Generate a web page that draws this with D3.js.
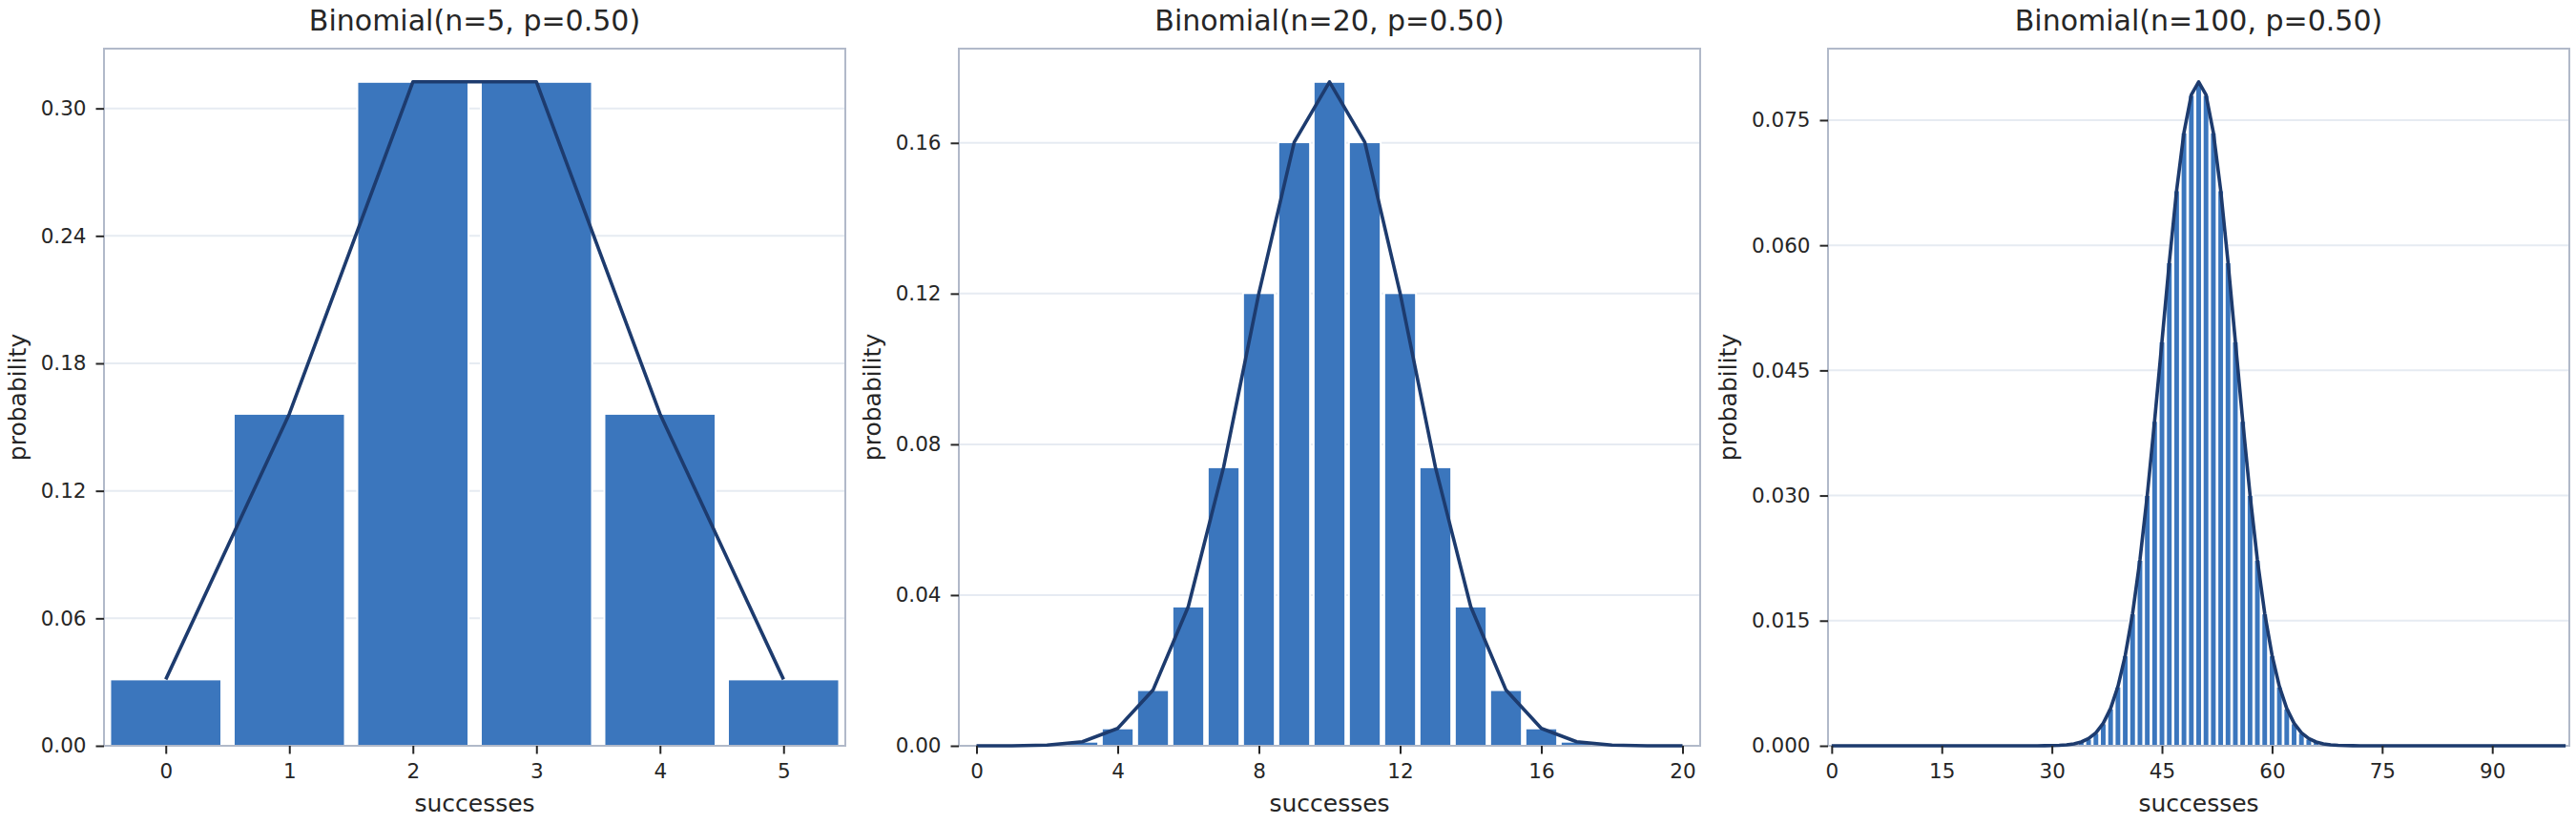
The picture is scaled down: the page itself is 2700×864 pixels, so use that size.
<!DOCTYPE html>
<html>
<head>
<meta charset="utf-8">
<script src="https://cdn.jsdelivr.net/npm/d3@7"></script>
<style>
  body { margin: 0; background: #fff; }
  text { font-family: "DejaVu Sans", sans-serif; fill: #262626; }
</style>
</head>
<body>
<div id="chart"></div>
<script>
// Chart values
const titles = ["Binomial(n=5, p=0.50)", "Binomial(n=20, p=0.50)", "Binomial(n=100, p=0.50)"];

const pmf5 = [0.03125, 0.15625, 0.3125, 0.3125, 0.15625, 0.03125];

const pmf20 = [0.000001, 0.000019, 0.000181, 0.001087, 0.004621, 0.014786, 0.036964,
  0.073929, 0.120134, 0.160179, 0.176197, 0.160179, 0.120134, 0.073929, 0.036964,
  0.014786, 0.004621, 0.001087, 0.000181, 0.000019, 0.000001];

const pmf100 = [
  0, 0, 0, 0, 0, 0, 0, 0, 0, 0,
  0, 0, 0, 0, 0, 0, 0, 0, 0, 0,
  0, 0, 0, 0, 0, 0.0000002, 0.0000006, 0.0000015, 0.0000039, 0.0000098,
  0.0000232, 0.0000523, 0.0001128, 0.0002325, 0.0004581, 0.0008638, 0.0015597, 0.0026979, 0.0044729, 0.0071107,
  0.0108438, 0.0158689, 0.0222922, 0.0300685, 0.0389525, 0.0484743, 0.0579584, 0.0665905, 0.0735270, 0.0780286,
  0.0795892,
  0.0780286, 0.0735270, 0.0665905, 0.0579584, 0.0484743, 0.0389525, 0.0300685, 0.0222922, 0.0158689, 0.0108438,
  0.0071107, 0.0044729, 0.0026979, 0.0015597, 0.0008638, 0.0004581, 0.0002325, 0.0001128, 0.0000523, 0.0000232,
  0.0000098, 0.0000039, 0.0000015, 0.0000006, 0.0000002, 0, 0, 0, 0, 0,
  0, 0, 0, 0, 0, 0, 0, 0, 0, 0,
  0, 0, 0, 0, 0, 0, 0, 0, 0, 0
];

const xTicks5 = [0, 1, 2, 3, 4, 5];
const xTicks20 = [0, 4, 8, 12, 16, 20];
const xTicks100 = [0, 15, 30, 45, 60, 75, 90];

const yTicks5 = [0, 0.06, 0.12, 0.18, 0.24, 0.30];
const yTicks20 = [0, 0.04, 0.08, 0.12, 0.16];
const yTicks100 = [0, 0.015, 0.030, 0.045, 0.060, 0.075];

const yFormats = [".2f", ".2f", ".3f"];
const xLabel = "successes";
const yLabel = "probability";

// Layout
const width = 2700,
  height = 864,
  plotTop = 51,
  plotBottom = 782,
  panelW = 777,
  panelX = [109, 1005, 1916];

const barColor = "#3b76bd",
  lineColor = "#1d3b6e",
  spineColor = "#b1b9c9",
  gridColor = "#e6ebf2";

const svg = d3.select("#chart")
  .append("svg")
  .attr("width", width)
  .attr("height", height);

svg.append("rect")
  .attr("width", width)
  .attr("height", height)
  .attr("fill", "#fff");

function drawPanel(i, pmf, xTicks, yTicks) {
  const n = pmf.length - 1;
  const x0 = panelX[i];
  const g = svg.append("g").attr("class", "panel" + i);

  const xScale = d3.scaleLinear()
    .domain([-0.5, n + 0.5])
    .range([x0, x0 + panelW]);

  const yScale = d3.scaleLinear()
    .domain([0, d3.max(pmf) * 1.05])
    .range([plotBottom, plotTop]);

  // horizontal grid
  g.selectAll("line.grid")
    .data(yTicks)
    .join("line")
    .attr("class", "grid")
    .attr("x1", x0)
    .attr("x2", x0 + panelW)
    .attr("y1", d => yScale(d))
    .attr("y2", d => yScale(d))
    .attr("stroke", gridColor)
    .attr("stroke-width", 2);

  // bars
  const unit = xScale(1) - xScale(0);
  g.selectAll("rect.bar")
    .data(pmf)
    .join("rect")
    .attr("class", "bar")
    .attr("x", (d, k) => xScale(k) - 0.45 * unit)
    .attr("width", 0.9 * unit)
    .attr("y", d => yScale(d))
    .attr("height", d => plotBottom - yScale(d))
    .attr("fill", barColor)
    .attr("stroke", "#fff")
    .attr("stroke-width", 2);

  // frame
  g.append("rect")
    .attr("x", x0)
    .attr("y", plotTop)
    .attr("width", panelW)
    .attr("height", plotBottom - plotTop)
    .attr("fill", "none")
    .attr("stroke", spineColor)
    .attr("stroke-width", 2);

  // pmf line
  const lineFunction = d3.line()
    .x((d, k) => xScale(k))
    .y(d => yScale(d));

  g.append("path")
    .datum(pmf)
    .attr("d", lineFunction)
    .attr("fill", "none")
    .attr("stroke", lineColor)
    .attr("stroke-width", 3.6)
    .attr("stroke-linejoin", "round");

  // axes
  const yAxis = g.append("g")
    .attr("transform", `translate(${x0},0)`)
    .call(d3.axisLeft(yScale)
      .tickValues(yTicks)
      .tickFormat(d3.format(yFormats[i]))
      .tickSize(8.5)
      .tickPadding(10));

  const xAxis = g.append("g")
    .attr("transform", `translate(0,${plotBottom})`)
    .call(d3.axisBottom(xScale)
      .tickValues(xTicks)
      .tickFormat(d3.format("d"))
      .tickSize(8.5)
      .tickPadding(10));

  [yAxis, xAxis].forEach(ax => {
    ax.select(".domain").remove();
    ax.selectAll(".tick line").attr("stroke", "#262626").attr("stroke-width", 2);
    ax.selectAll(".tick text")
      .attr("fill", "#262626")
      .style("font-family", "DejaVu Sans")
      .style("font-size", "21.5px");
  });

  // labels
  const maxW = d3.max(yAxis.selectAll(".tick text").nodes(), t => t.getComputedTextLength());
  const labelX = x0 - 8.5 - 10 - maxW - 10 - 5.9;

  g.append("text")
    .attr("transform", `translate(${labelX},${(plotTop + plotBottom) / 2}) rotate(-90)`)
    .attr("text-anchor", "middle")
    .style("font-size", "25px")
    .text(yLabel);

  g.append("text")
    .attr("x", x0 + panelW / 2)
    .attr("y", 851)
    .attr("text-anchor", "middle")
    .style("font-size", "25px")
    .text(xLabel);

  g.append("text")
    .attr("x", x0 + panelW / 2)
    .attr("y", 32)
    .attr("text-anchor", "middle")
    .style("font-size", "30px")
    .text(titles[i]);
}

drawPanel(0, pmf5, xTicks5, yTicks5);
drawPanel(1, pmf20, xTicks20, yTicks20);
drawPanel(2, pmf100, xTicks100, yTicks100);
</script>
</body>
</html>
